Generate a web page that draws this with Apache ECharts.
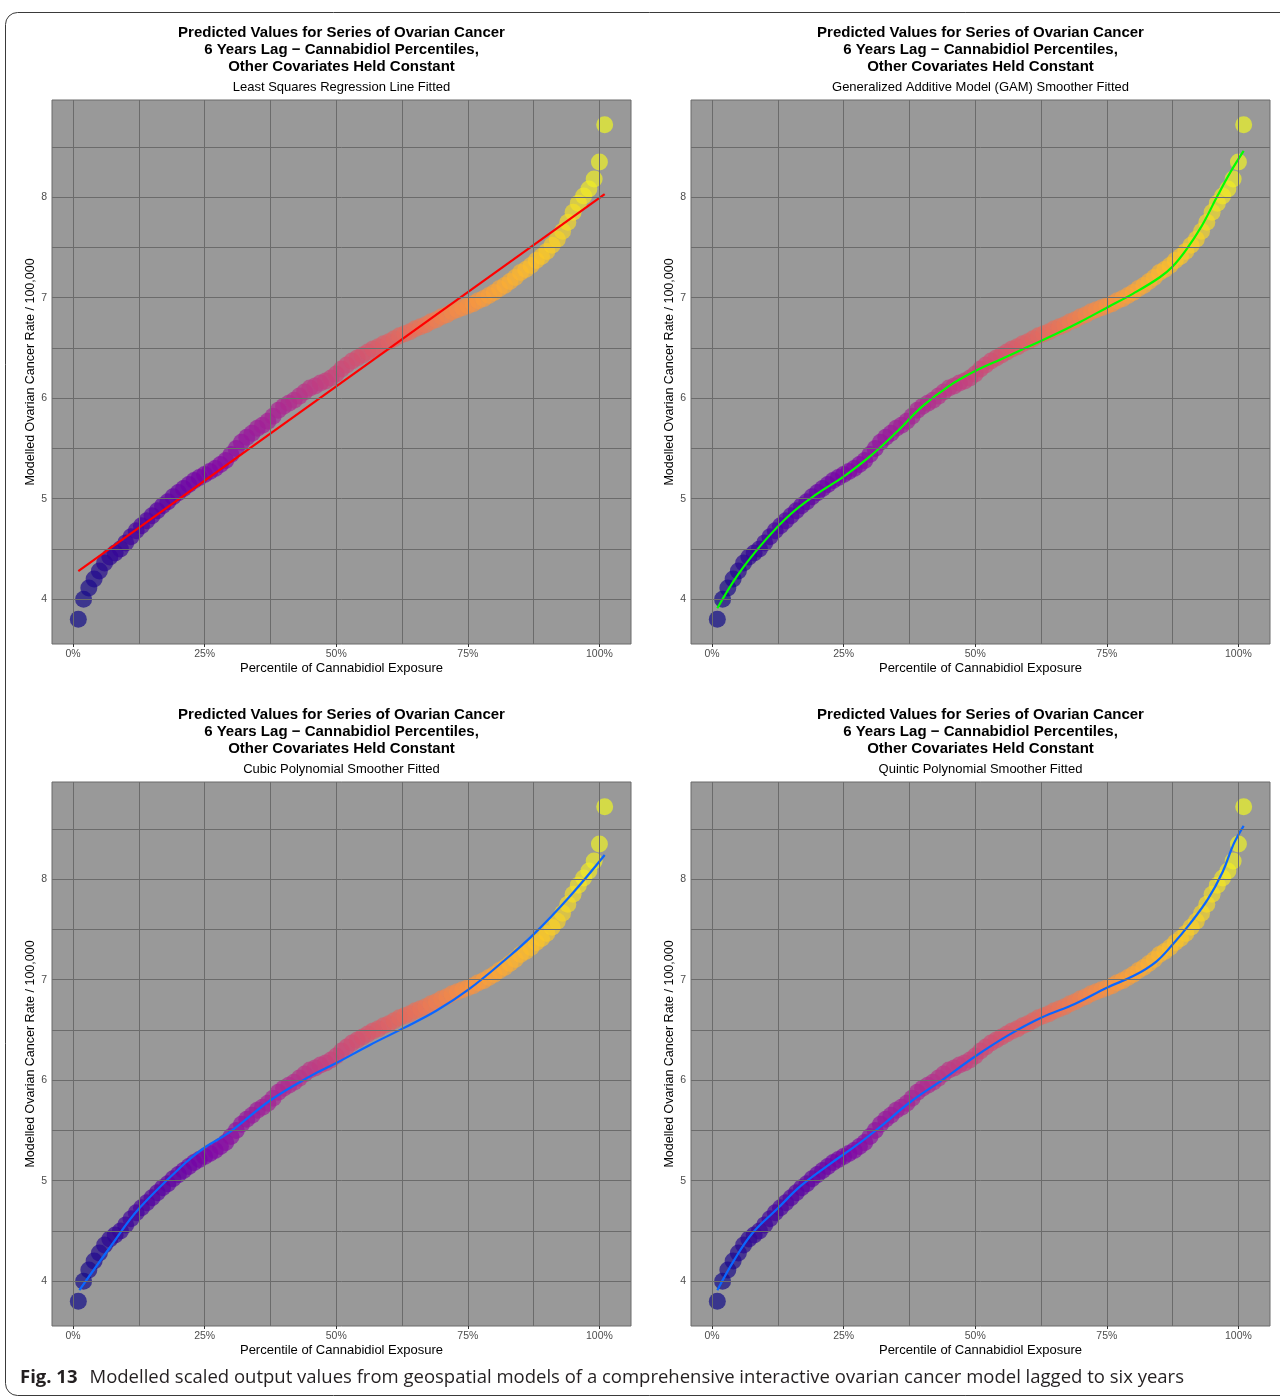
<!DOCTYPE html>
<html>
<head>
<meta charset="utf-8">
<script src="https://cdn.jsdelivr.net/npm/echarts@6/dist/echarts.min.js"></script>
<style>
html,body{margin:0;padding:0;background:#fff;}
#chart{width:1280px;height:1398px;}
</style>
</head>
<body>
<div id="chart"></div>
<script>
// ---------- DATA ----------
const percentiles = [1,2,3,4,5,6,7,8,9,10,11,12,13,14,15,16,17,18,19,20,21,22,23,24,25,26,27,28,29,30,31,32,33,34,35,36,37,38,39,40,41,42,43,44,45,46,47,48,49,50,51,52,53,54,55,56,57,58,59,60,61,62,63,64,65,66,67,68,69,70,71,72,73,74,75,76,77,78,79,80,81,82,83,84,85,86,87,88,89,90,91,92,93,94,95,96,97,98,99,100,101];
const predictedRates = [3.80,4.00,4.11,4.20,4.28,4.36,4.42,4.46,4.50,4.56,4.62,4.68,4.73,4.78,4.83,4.88,4.93,4.97,5.02,5.06,5.10,5.14,5.18,5.21,5.24,5.27,5.30,5.34,5.38,5.44,5.50,5.56,5.61,5.65,5.70,5.73,5.77,5.82,5.88,5.92,5.95,5.98,6.02,6.06,6.10,6.12,6.15,6.17,6.20,6.24,6.29,6.33,6.37,6.40,6.43,6.46,6.49,6.51,6.54,6.56,6.59,6.62,6.64,6.66,6.69,6.71,6.73,6.76,6.78,6.81,6.83,6.86,6.88,6.90,6.92,6.94,6.97,6.99,7.02,7.05,7.09,7.12,7.16,7.20,7.25,7.28,7.32,7.37,7.41,7.46,7.52,7.58,7.66,7.75,7.85,7.94,8.01,8.08,8.18,8.35,8.72];

// fitted curves
const linearFitX = [1, 101];
const linearFitY = [4.28, 8.03];
const gamFitX = [1, 5, 10, 15, 20, 25, 30, 35, 40, 45, 50, 55, 60, 65, 70, 75, 80, 85, 87.5, 90, 93, 96, 98.5, 101];
const gamFitY = [3.91, 4.25, 4.58, 4.85, 5.05, 5.22, 5.42, 5.66, 5.92, 6.12, 6.27, 6.39, 6.51, 6.63, 6.76, 6.90, 7.04, 7.20, 7.31, 7.47, 7.71, 8.01, 8.25, 8.46];
const cubicFitX = [1.2, 7.2, 12.5, 21.2, 25, 29.7, 37.5, 45.1, 50, 56.4, 62.5, 69, 75.1, 81.7, 87.5, 94.4, 101];
const cubicFitY = [3.91, 4.35, 4.72, 5.17, 5.33, 5.48, 5.80, 6.04, 6.17, 6.35, 6.51, 6.69, 6.90, 7.18, 7.45, 7.83, 8.24];
const quinticFitX = [1, 4.2, 7.7, 12.4, 16.9, 22.5, 27.4, 32.3, 37.6, 43.7, 50.1, 56.4, 62.5, 69, 75, 80.2, 84.4, 87.5, 90.7, 94.2, 97, 99.1, 101];
const quinticFitY = [3.91, 4.21, 4.48, 4.72, 4.95, 5.17, 5.35, 5.55, 5.78, 6.00, 6.24, 6.45, 6.62, 6.76, 6.92, 7.04, 7.18, 7.35, 7.55, 7.80, 8.07, 8.35, 8.53];

// axis ticks / gridlines
const xTickLabels = [0, 25, 50, 75, 100];
const xGridValues = [0, 12.5, 25, 37.5, 50, 62.5, 75, 87.5, 100];
const yTickLabels = [4, 5, 6, 7, 8];
const yGridValues = [4, 4.5, 5, 5.5, 6, 6.5, 7, 7.5, 8, 8.5];

const mainTitle = 'Predicted Values for Series of Ovarian Cancer\n6 Years Lag \u2212 Cannabidiol Percentiles,\nOther Covariates Held Constant';
const subTitles = ['Least Squares Regression Line Fitted', 'Generalized Additive Model (GAM) Smoother Fitted', 'Cubic Polynomial Smoother Fitted', 'Quintic Polynomial Smoother Fitted'];
const xAxisTitle = 'Percentile of Cannabidiol Exposure';
const yAxisTitle = 'Modelled Ovarian Cancer Rate / 100,000';
const captionBold = 'Fig. 13';
const captionText = 'Modelled scaled output values from geospatial models of a comprehensive interactive ovarian cancer model lagged to six years';

// ---------- STYLE ----------
const plasma = ['#0d0887','#4c02a1','#7e03a8','#a92395','#cc4778','#e56b5d','#f89441','#fdc328','#f0f921'];
function hexToRgb(h){return [parseInt(h.slice(1,3),16),parseInt(h.slice(3,5),16),parseInt(h.slice(5,7),16)];}
function plasmaColor(t){
  t = Math.max(0, Math.min(1, t));
  const p = t * (plasma.length - 1);
  const i = Math.min(Math.floor(p), plasma.length - 2);
  const f = p - i;
  const a = hexToRgb(plasma[i]), b = hexToRgb(plasma[i+1]);
  const c = a.map((v,k)=>Math.round(v + (b[k]-v)*f));
  return 'rgb(' + c.join(',') + ')';
}
const pMin = percentiles[0], pMax = percentiles[percentiles.length-1];

const panels = [
  {left: 52, top: 100, fitX: linearFitX, fitY: linearFitY, color: '#ff0000', smooth: false},
  {left: 691, top: 100, fitX: gamFitX, fitY: gamFitY, color: '#00ff00', smooth: 0.4},
  {left: 52, top: 782, fitX: cubicFitX, fitY: cubicFitY, color: '#0a66ff', smooth: 0.4},
  {left: 691, top: 782, fitX: quinticFitX, fitY: quinticFitY, color: '#0a66ff', smooth: 0.4}
];
const PW = 579, PH = 544;
const FONT = '"Liberation Sans", Arial, Helvetica, sans-serif';

const grids = [], xAxes = [], yAxes = [], series = [], graphics = [];
panels.forEach((p, i) => {
  grids.push({left: p.left, top: p.top, width: PW, height: PH, show: true, backgroundColor: '#999999', borderColor: '#6b6b6b', borderWidth: 1, containLabel: false});
  xAxes.push({
    type: 'value', gridIndex: i, min: -4, max: 106,
    splitLine: {show: false}, axisLine: {show: false},
    axisTick: {show: true, customValues: xTickLabels, length: 3, lineStyle: {color: '#333', width: 1}},
    axisLabel: {customValues: xTickLabels, formatter: v => v + '%', color: '#4d4d4d', fontSize: 10.5, fontFamily: FONT, margin: 5},
    name: xAxisTitle, nameLocation: 'middle', nameGap: 18,
    nameTextStyle: {color: '#000', fontSize: 13, fontFamily: FONT}
  });
  yAxes.push({
    type: 'value', gridIndex: i, min: 3.554, max: 8.966,
    splitLine: {show: false}, axisLine: {show: false},
    axisTick: {show: true, customValues: yTickLabels, length: 3, lineStyle: {color: '#333', width: 1}},
    axisLabel: {customValues: yTickLabels, color: '#4d4d4d', fontSize: 10.5, fontFamily: FONT, margin: 5},
    name: yAxisTitle, nameLocation: 'middle', nameGap: 15,
    nameTextStyle: {color: '#000', fontSize: 12.5, fontFamily: FONT}
  });
  // gridlines (drawn through the axis scales)
  series.push({
    type: 'line', xAxisIndex: i, yAxisIndex: i, data: [], z: 1, silent: true,
    markLine: {
      silent: true, symbol: ['none','none'], animation: false,
      label: {show: false}, emphasis: {disabled: true},
      lineStyle: {color: '#6b6b6b', width: 1, type: 'solid'},
      data: xGridValues.map(v => ({xAxis: v})).concat(yGridValues.map(v => ({yAxis: v})))
    }
  });
  series.push({
    type: 'scatter', xAxisIndex: i, yAxisIndex: i, z: 2, symbolSize: 17,
    data: percentiles.map((x, k) => [x, predictedRates[k]]),
    itemStyle: {opacity: 0.68, color: params => plasmaColor((params.value[0] - pMin) / (pMax - pMin))},
    animation: false
  });
  series.push({
    type: 'line', xAxisIndex: i, yAxisIndex: i, z: 3, smooth: p.smooth, symbol: 'none',
    data: p.fitX.map((x, k) => [x, p.fitY[k]]),
    lineStyle: {color: p.color, width: 2.2}, animation: false
  });
  const cx = p.left + PW / 2;
  graphics.push({
    type: 'text', x: cx, y: p.top - 75.5, silent: true,
    style: {text: mainTitle, textAlign: 'center', textVerticalAlign: 'top', font: 'bold 15px ' + FONT, lineHeight: 17, fill: '#000'}
  });
  graphics.push({
    type: 'text', x: cx, y: p.top - 12.5, silent: true,
    style: {text: subTitles[i], textAlign: 'center', textVerticalAlign: 'middle', font: '13px ' + FONT, fill: '#000'}
  });
});

// figure frame and caption
graphics.push({
  type: 'rect', silent: true, z: -1,
  shape: {x: 5.5, y: 12.5, width: 1300, height: 1383, r: 12},
  style: {fill: 'none', stroke: '#3a3a3a', lineWidth: 1}
});
graphics.push({
  type: 'text', x: 20, y: 1378, silent: true,
  style: {
    text: '{b|' + captionBold + '}{n|' + captionText + '}',
    textVerticalAlign: 'middle',
    rich: {
      b: {fontWeight: 'bold', fontSize: 18.5, fontFamily: '"Open Sans", "Noto Sans", sans-serif', fill: '#231f20', padding: [0, 12, 0, 0]},
      n: {fontSize: 18.5, fontFamily: '"Open Sans", "Noto Sans", sans-serif', fill: '#231f20'}
    }
  }
});

const chart = echarts.init(document.getElementById('chart'), null, {renderer: 'canvas'});
chart.setOption({
  backgroundColor: '#ffffff',
  animation: false,
  grid: grids, xAxis: xAxes, yAxis: yAxes, series: series,
  graphic: graphics
});
</script>
</body>
</html>
